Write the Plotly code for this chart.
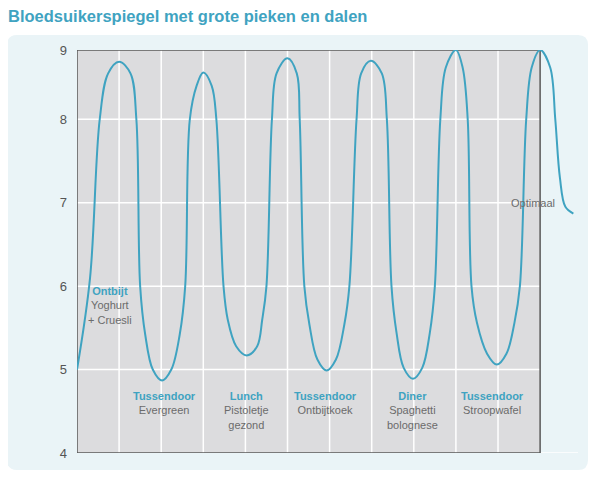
import plotly.graph_objects as go

# blood sugar curve (x = time slot, y = level)
curve_x = [0, 0.31, 0.54, 0.74, 1.0, 1.27, 1.41, 1.50, 1.62, 1.80,
           2.02, 2.24, 2.44, 2.57, 2.68, 2.84, 3.0, 3.2, 3.31, 3.48, 3.58, 3.78,
           4.03, 4.28, 4.40, 4.50, 4.63, 4.74, 5.0, 5.22, 5.29, 5.40, 5.52, 5.71,
           5.93, 6.15, 6.35, 6.47, 6.64, 6.75, 6.98, 7.24, 7.36, 7.47, 7.59, 7.76,
           7.98, 8.20, 8.38, 8.50, 8.63, 8.76, 9.0, 9.16, 9.28, 9.37, 9.50, 9.74,
           9.97, 10.20, 10.39, 10.52, 10.67, 10.80, 11.0, 11.24, 11.36, 11.47,
           11.6, 11.79]
curve_y = [5.0, 6.1, 8.0, 8.55, 8.69, 8.55, 8.0, 6.0, 5.42, 5.0,
           4.87, 5.0, 5.42, 6.0, 8.0, 8.40, 8.56, 8.40, 8.0, 6.0, 5.6, 5.28,
           5.17, 5.28, 5.6, 6.0, 8.0, 8.55, 8.73, 8.55, 8.0, 6.0, 5.54, 5.12,
           4.99, 5.12, 5.54, 6.0, 8.0, 8.55, 8.70, 8.55, 8.0, 6.0, 5.44, 5.02,
           4.89, 5.02, 5.44, 6.0, 8.0, 8.62, 8.83, 8.62, 8.0, 6.0, 5.56, 5.19,
           5.06, 5.19, 5.56, 6.0, 8.0, 8.62, 8.83, 8.62, 8.0, 7.3,
           6.95, 6.87]

# meals, placed under the dips
meal_x = [0.78, 2.07, 4.03, 5.9, 7.97, 9.86]
meal_names = ["Ontbijt", "Tussendoor", "Lunch", "Tussendoor", "Diner", "Tussendoor"]
meal_food = ["Yoghurt<br>+ Cruesli", "Evergreen", "Pistoletje<br>gezond",
             "Ontbijtkoek", "Spaghetti<br>bolognese", "Stroopwafel"]

# y axis: the top of the frame carries the label 9
ytick_vals = [4, 5, 6, 7, 8, 8.83]
ytick_text = ["4", "5", "6", "7", "8", "9"]

BLUE = "#3fa3c1"
GREY_TXT = "#6b6b6b"
FONT = "Liberation Sans, Arial, sans-serif"
X_END = 11
Y_TOP = 8.83

fig = go.Figure()
fig.add_trace(go.Scatter(
    x=curve_x, y=curve_y, mode="lines",
    line=dict(color=BLUE, width=2, shape="spline", smoothing=1),
    hoverinfo="skip", cliponaxis=False,
))

shapes = []
# light blue rounded panel behind everything
r_x, r_y = 0.02, 0.025
x0, x1, y0, y1 = -0.1397, 1.02, -0.0422, 1.0372
shapes.append(dict(
    type="path", xref="paper", yref="paper", layer="below",
    path=(f"M {x0 + r_x},{y0} L {x1 - r_x},{y0} Q {x1},{y0} {x1},{y0 + r_y} "
          f"L {x1},{y1 - r_y} Q {x1},{y1} {x1 - r_x},{y1} L {x0 + r_x},{y1} "
          f"Q {x0},{y1} {x0},{y1 - r_y} L {x0},{y0 + r_y} Q {x0},{y0} {x0 + r_x},{y0} Z"),
    fillcolor="#eaf4f7", line=dict(width=0),
))
# grey plotting area
shapes.append(dict(type="rect", xref="x", yref="y", layer="below",
                   x0=0, x1=X_END, y0=4, y1=Y_TOP,
                   fillcolor="#dcdcde", line=dict(width=0)))
# horizontal grid lines stop at the frame
for v in ytick_vals[1:-1]:
    shapes.append(dict(type="line", xref="x", yref="y", layer="below",
                       x0=0, x1=X_END, y0=v, y1=v,
                       line=dict(color="white", width=1.5)))
# vertical grid lines
for v in range(1, X_END):
    shapes.append(dict(type="line", xref="x", yref="y", layer="below",
                       x0=v, x1=v, y0=4, y1=Y_TOP,
                       line=dict(color="white", width=1.5)))
# white baseline continuing past the frame
shapes.append(dict(type="line", xref="x", yref="y", layer="below",
                   x0=X_END, x1=12.0, y0=4, y1=4,
                   line=dict(color="white", width=1.5)))
# dark frame
shapes.append(dict(type="rect", xref="x", yref="y", layer="between",
                   x0=0, x1=X_END, y0=4, y1=Y_TOP,
                   line=dict(color="#5a5a5a", width=1.5)))

annotations = []
for mx, name, food in zip(meal_x, meal_names, meal_food):
    first = (mx == meal_x[0])
    annotations.append(dict(
        x=mx, y=6.04 if first else 4.78, xref="x", yref="y",
        text=f"<b>{name}</b><br><span style='color:{GREY_TXT}'>{food}</span>",
        showarrow=False, align="center", yanchor="top",
        font=dict(family=FONT, size=11, color=BLUE),
    ))
annotations.append(dict(
    x=10.83, y=7.0, xref="x", yref="y", text="Optimaal", showarrow=False,
    font=dict(family=FONT, size=11, color=GREY_TXT),
))
annotations.append(dict(
    x=0, y=1, xref="paper", yref="paper", xanchor="left", yanchor="top",
    xshift=-71, yshift=45,
    text="<b>Bloedsuikerspiegel met grote pieken en dalen</b>", showarrow=False,
    font=dict(family=FONT, size=16.5, color=BLUE),
))

fig.update_layout(
    width=597, height=473,
    margin=dict(l=69, r=27, t=42, b=28),
    paper_bgcolor="white", plot_bgcolor="rgba(0,0,0,0)",
    showlegend=False,
    shapes=shapes, annotations=annotations,
    xaxis=dict(range=[0, 11.9], showgrid=False, zeroline=False,
               showticklabels=False, fixedrange=True),
    yaxis=dict(range=[4, Y_TOP], tickvals=ytick_vals, ticktext=ytick_text,
               showgrid=False, zeroline=False, ticklabelstandoff=9,
               tickfont=dict(family=FONT, size=13, color="#555555"),
               fixedrange=True),
)

fig.write_html("out.html")
